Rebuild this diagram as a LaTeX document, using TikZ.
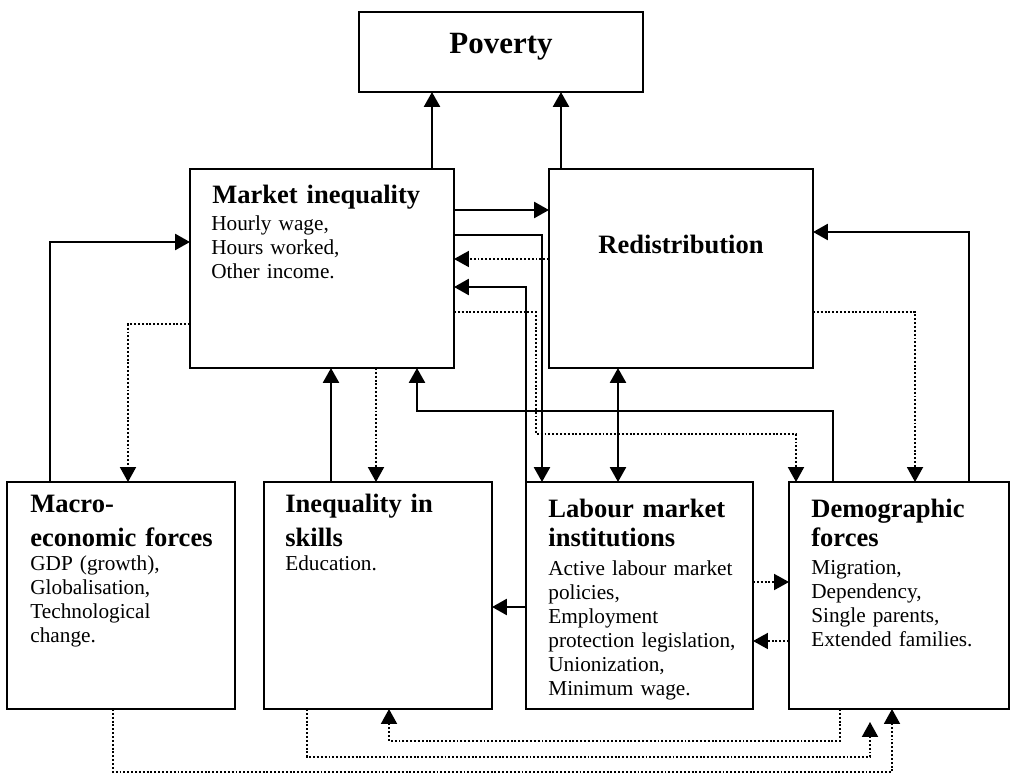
\documentclass[tikz,border=0pt]{standalone}
\usepackage{fontspec}
\setmainfont{Liberation Serif}
\usetikzlibrary{arrows.meta}

\newcommand{\headfont}{\fontsize{15.1}{17}\selectfont\bfseries}

\begin{document}
\begin{tikzpicture}[x=0.02cm,y=-0.02cm,
	>={Triangle[length=0.3cm,width=0.32cm]},
	box/.style={draw,line width=1pt,inner sep=0pt,outer sep=0pt},
	ttl/.style={font=\headfont,anchor=base west,inner sep=0pt,align=left,text width=4.4cm},
	txt/.style={font=\fontsize{12.1}{13.66}\selectfont,anchor=base west,inner sep=0pt,align=left,text width=4.4cm},
	flow/.style={line width=1.5pt,->},
	link/.style={line width=1.1pt,dash pattern=on 1.1pt off 1.1pt,->}]
	\useasboundingbox (0,0) rectangle (1012,774);
	
	%boxes
	\node[box,minimum width=5.68cm,minimum height=1.6cm] (pov) at (501,52) {};
	\node[box,minimum width=5.28cm,minimum height=3.98cm] (mkt) at (322,268.5) {};
	\node[box,minimum width=5.28cm,minimum height=3.98cm] (red) at (681,268.5) {};
	\node[box,minimum width=4.56cm,minimum height=4.54cm] (mac) at (121,595.5) {};
	\node[box,minimum width=4.56cm,minimum height=4.54cm] (skl) at (378,595.5) {};
	\node[box,minimum width=4.54cm,minimum height=4.54cm] (lab) at (639.5,595.5) {};
	\node[box,minimum width=4.4cm,minimum height=4.54cm] (dem) at (899,595.5) {};
	
	%labels
	\node[font=\fontsize{17.6}{20}\selectfont\bfseries,anchor=base,inner sep=0pt] (pov-t) at (501,53) {Poverty};
	\node[font=\headfont,anchor=base,inner sep=0pt] (red-t) at (681,253) {Redistribution};
	\node[ttl] (mkt-t) at ([shift={(22,34)}]mkt.north west) {Market inequality};
	\node[txt] (mkt-b) at ([shift={(21,61)}]mkt.north west) {Hourly wage,\\Hours worked,\\Other income.};
	\node[ttl] (mac-t) at ([shift={(23,30)}]mac.north west) {Macro-\\[2.9pt]economic forces};
	\node[txt] (mac-b) at ([shift={(23,88)}]mac.north west) {GDP (growth),\\Globalisation,\\Technological\\change.};
	\node[ttl] (skl-t) at ([shift={(21,30)}]skl.north west) {Inequality in\\[2.9pt]skills};
	\node[txt] (skl-b) at ([shift={(21,88)}]skl.north west) {Education.};
	\node[ttl] (lab-t) at ([shift={(22,35)}]lab.north west) {Labour market\\institutions};
	\node[txt] (lab-b) at ([shift={(22,93)}]lab.north west) {Active labour market\\policies,\\Employment\\protection legislation,\\Unionization,\\Minimum wage.};
	\node[ttl] (dem-t) at ([shift={(22,35)}]dem.north west) {Demographic\\forces};
	\node[txt] (dem-b) at ([shift={(22,92)}]dem.north west) {Migration,\\Dependency,\\Single parents,\\Extended families.};
	
	%solid arrows
	\draw[flow] (mkt.north -| 432,0) -- (pov.south -| 432,0);
	\draw[flow] (red.north -| 561,0) -- (pov.south -| 561,0);
	\draw[flow] (mkt.east |- 0,210) -- (red.west |- 0,210);
	\draw[flow] (mkt.east |- 0,235) -| (lab.north -| 542,0);
	\draw[flow] (lab.north west) |- (mkt.east |- 0,287);
	\draw[flow] (dem.north -| 833,0) |- (417,411) -- (mkt.south -| 417,0);
	\draw[flow,<->] (red.south -| 618,0) -- (lab.north -| 618,0);
	\draw[flow] (dem.north -| 969,0) |- (red.east |- 0,232);
	\draw[flow] (mac.north -| 50,0) |- (mkt.west |- 0,242);
	\draw[flow] (skl.north -| 331,0) -- (mkt.south -| 331,0);
	\draw[flow] (lab.west |- 0,607) -- (skl.east |- 0,607);
	
	%dotted arrows
	\draw[link] (red.west |- 0,259) -- (mkt.east |- 0,259);
	\draw[link] (mkt.east |- 0,312) -| (536,434) -| (dem.north -| 796,0);
	\draw[link] (red.east |- 0,312) -| (dem.north -| 915,0);
	\draw[link] (mkt.west |- 0,324) -| (mac.north -| 128,0);
	\draw[link] (mkt.south -| 376,0) -- (skl.north -| 376,0);
	\draw[link] (lab.east |- 0,582) -- (dem.west |- 0,582);
	\draw[link] (dem.west |- 0,641) -- (lab.east |- 0,641);
	\draw[link] (dem.south -| 840,0) |- (389,741) -- (skl.south -| 389,0);
	\draw[link,shorten >=0.26cm] (skl.south -| 307,0) |- (870,757) -- (dem.south -| 870,0);
	\draw[link] (mac.south -| 113,0) |- (892,772) -- (dem.south -| 892,0);
\end{tikzpicture}
\end{document}
